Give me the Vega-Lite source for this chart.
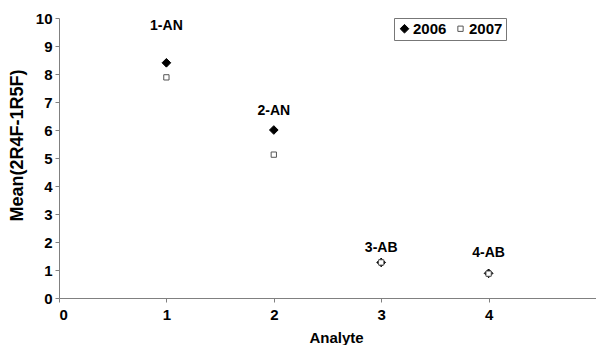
{
  "$schema": "https://vega.github.io/schema/vega-lite/v6.json",
  "autosize": {"type": "none"},
  "padding": {"left": 59, "top": 18, "right": 0, "bottom": 47},
  "width": 537,
  "height": 280,
  "background": "white",
  "config": {
    "view": {"stroke": null},
    "font": "Liberation Sans",
    "axis": {
      "grid": false,
      "domainColor": "#808080",
      "tickColor": "#808080",
      "tickSize": 4,
      "labelFont": "Liberation Sans",
      "labelFontSize": 15,
      "labelFontWeight": "bold",
      "labelColor": "black",
      "format": "d",
      "titleFont": "Liberation Sans",
      "titleFontWeight": "bold",
      "titleColor": "black"
    }
  },
  "datasets": {
    "points": [
      {"Analyte": 1, "Mean": 8.4, "Year": "2006"},
      {"Analyte": 2, "Mean": 6.0, "Year": "2006"},
      {"Analyte": 3, "Mean": 1.27, "Year": "2006"},
      {"Analyte": 4, "Mean": 0.88, "Year": "2006"},
      {"Analyte": 1, "Mean": 7.88, "Year": "2007"},
      {"Analyte": 2, "Mean": 5.12, "Year": "2007"},
      {"Analyte": 3, "Mean": 1.27, "Year": "2007"},
      {"Analyte": 4, "Mean": 0.87, "Year": "2007"}
    ],
    "labels": [
      {"Analyte": 1, "Mean": 9.7, "Label": "1-AN"},
      {"Analyte": 2, "Mean": 6.68, "Label": "2-AN"},
      {"Analyte": 3, "Mean": 1.79, "Label": "3-AB"},
      {"Analyte": 4, "Mean": 1.6, "Label": "4-AB"}
    ]
  },
  "encoding": {
    "x": {
      "field": "Analyte", "type": "quantitative",
      "scale": {"domain": [0, 5], "nice": false, "zero": true},
      "axis": {"values": [0, 1, 2, 3, 4], "title": "Analyte", "titleFontSize": 15, "labelPadding": 5,
               "titleX": 277, "titleY": 39, "titleBaseline": "middle", "titleAlign": "center"}
    },
    "y": {
      "field": "Mean", "type": "quantitative",
      "scale": {"domain": [0, 10], "nice": false},
      "axis": {"tickCount": 10, "labelOverlap": false, "labelSeparation": 0,
               "title": "Mean(2R4F-1R5F)", "titleFontSize": 18, "labelPadding": 3,
               "titleX": -42, "titleY": 127, "titleBaseline": "middle", "titleAlign": "center"}
    }
  },
  "layer": [
    {
      "data": {"name": "points"},
      "mark": {"type": "point", "filled": false, "opacity": 1, "strokeWidth": 1},
      "encoding": {
        "shape": {
          "field": "Year", "type": "nominal",
          "scale": {"domain": ["2006", "2007"], "range": ["diamond", "square"]},
          "legend": {
            "orient": "none", "legendX": 335, "legendY": 0,
            "direction": "horizontal", "title": null,
            "strokeColor": "#777777", "padding": 3,
            "labelFontSize": 15, "labelFontWeight": "bold", "labelColor": "black",
            "labelFont": "Liberation Sans",
            "symbolSize": 30, "columnPadding": 6, "labelOffset": 1, "symbolStrokeWidth": 1
          }
        },
        "fill": {
          "field": "Year", "type": "nominal",
          "scale": {"domain": ["2006", "2007"], "range": ["black", "white"]}
        },
        "stroke": {
          "field": "Year", "type": "nominal",
          "scale": {"domain": ["2006", "2007"], "range": ["black", "#555555"]}
        },
        "size": {
          "field": "Year", "type": "nominal",
          "scale": {"domain": ["2006", "2007"], "range": [75, 28]}
        }
      }
    },
    {
      "data": {"name": "labels"},
      "mark": {"type": "text", "fontSize": 14, "fontWeight": "bold", "color": "black", "baseline": "middle", "align": "center"},
      "encoding": {
        "text": {"field": "Label"}
      }
    }
  ]
}
